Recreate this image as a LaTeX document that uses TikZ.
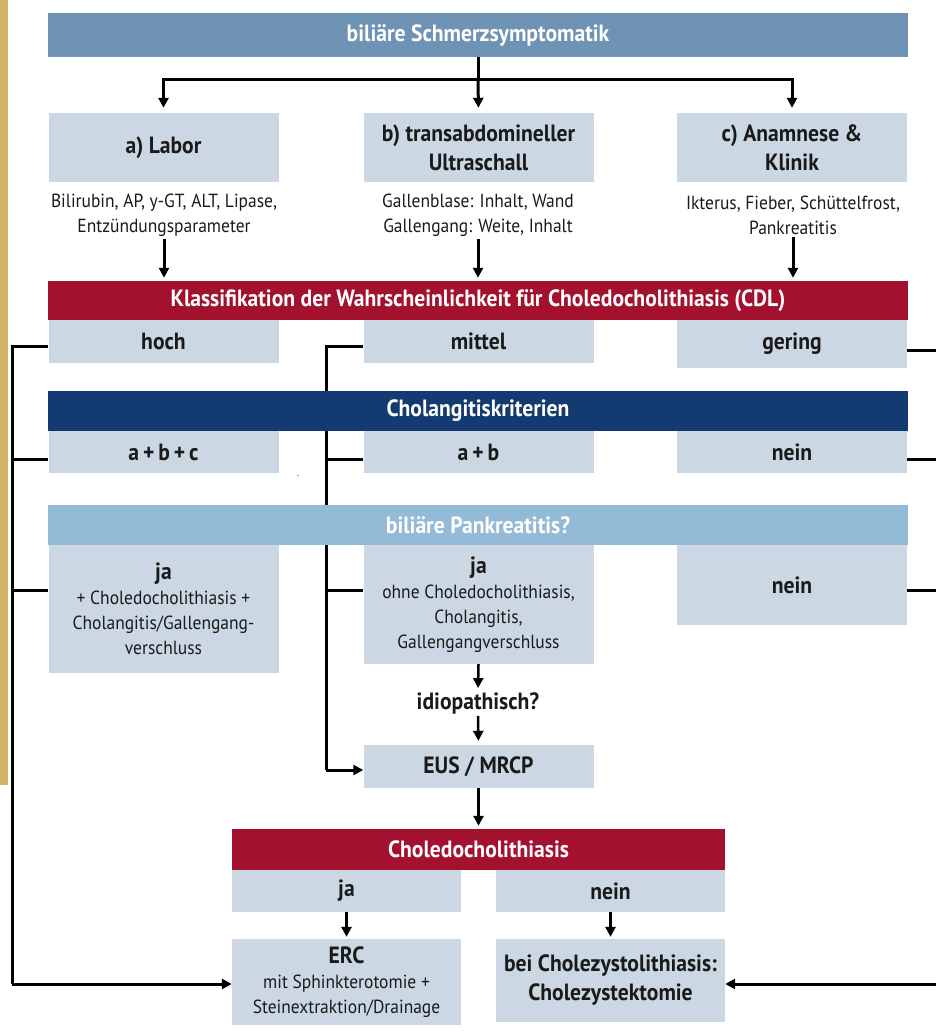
\documentclass[tikz,border=0pt]{standalone}
\usepackage{fontspec}
\setmainfont{PT Sans}[FakeStretch=0.92]
\usetikzlibrary{arrows.meta}

\definecolor{topblue}{HTML}{6F93B5}
\definecolor{boxblue}{HTML}{CBD8E4}
\definecolor{cdlred}{HTML}{A3112F}
\definecolor{navy}{HTML}{133B72}
\definecolor{pankblue}{HTML}{93BAD6}
\definecolor{gold}{HTML}{D4B468}
\definecolor{ink}{HTML}{1A1A1A}

\def\barfont{\bfseries\fontsize{23.5}{28}\selectfont}
\def\boxfont{\bfseries\fontsize{23.5}{29}\selectfont}
\def\notefont{\fontsize{19}{25}\selectfont}

\begin{document}
\begin{tikzpicture}[x=1pt,y=-1pt]
	\tikzstyle{bar} = [rectangle, minimum width=860pt, text=white, font=\barfont, inner sep=0pt]
	\tikzstyle{box} = [rectangle, fill=boxblue, minimum width=230pt, text=ink, font=\boxfont, align=center, inner sep=0pt]
	\tikzstyle{note} = [text=ink, font=\notefont, align=center, inner sep=2pt]
	\tikzstyle{line} = [line width=3pt, draw=black]
	\tikzstyle{arr} = [line width=3pt, draw=black, -{Triangle[length=10pt,width=10pt]}]
	
	\useasboundingbox (0,0) rectangle (936,1033);
	\fill[gold] (0,0) rectangle (8,785);
	
	% Eingang
	\node[bar,fill=topblue,minimum height=44pt](top) at (478,35){biliäre Schmerzsymptomatik};
	
	\node[box,minimum height=69pt](labor) at (163.5,147.5){a) Labor};
	\node[box,minimum height=69pt](ultra) at (478.5,147.5){b) transabdomineller\\Ultraschall};
	\node[box,minimum height=69pt](anam) at (792,147.5){c) Anamnese \&\\Klinik};
	
	\node[note](n-a) at (164,215.5){Bilirubin, AP, y-GT, ALT, Lipase,\\Entzündungsparameter};
	\node[note](n-b) at (478,215.5){Gallenblase: Inhalt, Wand\\Gallengang: Weite, Inhalt};
	\node[note](n-c) at (793,215.5){Ikterus, Fieber, Schüttelfrost,\\Pankreatitis};
	
	% Klassifikation
	\node[bar,fill=cdlred,minimum height=39pt](cdl) at (478,300.5){Klassifikation der Wahrscheinlichkeit für Choledocholithiasis (CDL)};
	\node[box,minimum height=43pt](hoch) at (163.5,341.5){hoch};
	\node[box,minimum height=43pt](mittel) at (478.5,341.5){mittel};
	\node[box,minimum height=48pt](gering) at (792,344){gering};
	
	\node[bar,fill=navy,minimum height=40pt](chol) at (478,411){Cholangitiskriterien};
	\node[box,minimum height=42pt](abc) at (163.5,452){a\,+\,b\,+\,c};
	\node[box,minimum height=42pt](ab) at (478.5,452){a\,+\,b};
	\node[box,minimum height=42pt](nein-1) at (792,452){nein};
	\node[text=gray,font=\small](dash) at (298,477){-};
	
	\node[bar,fill=pankblue,minimum height=40pt](pank) at (478,525){biliäre Pankreatitis?};
	\node[box,font=\notefont,minimum height=128pt](ja-1) at (163.5,609){{\boxfont ja}\\+ Choledocholithiasis +\\Cholangitis/Gallengang-\\verschluss};
	\node[box,font=\notefont,minimum height=119pt](ja-2) at (478.5,604.5){{\boxfont ja}\\ohne Choledocholithiasis,\\Cholangitis,\\Gallengangverschluss};
	\node[box,minimum height=80pt](nein-2) at (792,585){nein};
	
	\node[note,font=\boxfont](idio) at (478,703){idiopathisch?};
	\node[box,minimum height=43pt](eus) at (478.5,766.5){EUS / MRCP};
	
	% Therapie
	\node[bar,fill=cdlred,minimum width=493pt,minimum height=41pt](cdl-2) at (478.5,849.5){Choledocholithiasis};
	\node[box,minimum width=229pt,minimum height=42pt](ja-3) at (346.5,891){ja};
	\node[box,minimum width=229pt,minimum height=42pt](nein-3) at (610.5,891){nein};
	\node[box,font=\notefont,minimum width=229pt,minimum height=86pt](erc) at (346.5,982){{\boxfont ERC}\\mit Sphinkterotomie +\\Steinextraktion/Drainage};
	\node[box,minimum width=229pt,minimum height=83pt](ecto) at (610.5,980.5){bei Cholezystolithiasis:\\Cholezystektomie};
	
	% Verbindungen
	\coordinate (split) at (478,79);
	\draw[line] (top.south) -- (split);
	\draw[arr,shorten >=5pt] (split) -| (labor.north);
	\draw[arr,shorten >=5pt] (split) -- (ultra.north);
	\draw[arr,shorten >=5pt] (split) -| (anam.north);
	
	\foreach \n in {n-a,n-b,n-c}{
		\draw[arr,shorten >=3pt] (\n.south) -- (\n.south |- cdl.north);
	};
	
	\coordinate (l-1) at (12,346);
	\coordinate (l-2) at (12,459);
	\coordinate (l-3) at (12,590);
	\coordinate (l-4) at (12,984);
	\draw[line] (l-1 -| hoch.west) -- (l-1) -- (l-4);
	\draw[arr] (l-4) -- (l-4 -| erc.west);
	\draw[line] (l-2) -- (l-2 -| abc.west);
	\draw[line] (l-3) -- (l-3 -| ja-1.west);
	
	\coordinate (m-1) at (326,346);
	\coordinate (m-2) at (326,459);
	\coordinate (m-3) at (326,590);
	\coordinate (m-4) at (326,770);
	\draw[line] (m-1 -| mittel.west) -- (m-1) -- (m-1 |- chol.north);
	\draw[line] (m-1 |- chol.south) -- (m-1 |- pank.north);
	\draw[line] (m-2) -- (m-2 -| ab.west);
	\draw[line] (m-1 |- pank.south) -- (m-4);
	\draw[line] (m-3) -- (m-3 -| ja-2.west);
	\draw[arr] (m-4) -- (m-4 -| eus.west);
	
	\coordinate (r-1) at (946,350);
	\coordinate (r-2) at (946,459);
	\coordinate (r-3) at (946,590);
	\coordinate (r-4) at (946,984);
	\draw[line] (r-1 -| gering.east) -- (r-1) -- (r-4);
	\draw[arr] (r-4) -- (r-4 -| ecto.east);
	\draw[line] (r-2) -- (r-2 -| nein-1.east);
	\draw[line] (r-3) -- (r-3 -| nein-2.east);
	
	\draw[arr,line width=2.5pt,shorten >=2pt] (ja-2.south) -- (idio.north);
	\draw[arr,line width=2.5pt,shorten >=4pt] (idio.south) -- (eus.north);
	\draw[arr,shorten >=3pt] (eus.south) -- (cdl-2.north);
	\draw[arr,line width=2.5pt,shorten >=2pt] (ja-3.south) -- (erc.north);
	\draw[arr,line width=2.5pt,shorten >=2pt] (nein-3.south) -- (ecto.north);
\end{tikzpicture}
\end{document}
